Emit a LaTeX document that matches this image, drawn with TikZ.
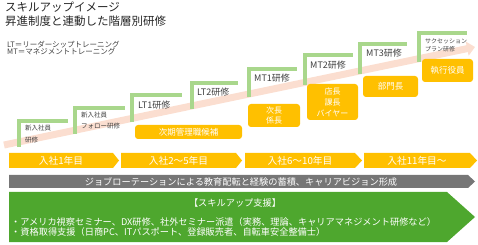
\documentclass[tikz,border=0pt]{standalone}
\usepackage{fontspec}
\setmainfont{Noto Sans CJK JP}
\usetikzlibrary{arrows.meta, positioning}
\definecolor{stepgreen}{RGB}{169,215,140}
\definecolor{bandpink}{RGB}{251,222,208}
\definecolor{boxorange}{RGB}{255,192,0}
\definecolor{rotgray}{RGB}{118,118,118}
\definecolor{supgreen}{RGB}{78,167,46}
\definecolor{txtgray}{RGB}{64,64,64}

\begin{document}
\begin{tikzpicture}[x=1pt, y=-1pt,
    stepline/.style={draw=stepgreen, line width=4pt},
    steplbl/.style={anchor=west, inner sep=0pt, text=txtgray, align=left},
    rolebox/.style={fill=boxorange, rounded corners=3pt, draw=none, text=white,
                    inner sep=0pt, align=center},
    whitetxt/.style={text=white, inner sep=0pt}]
    \useasboundingbox (0,0) rectangle (478,245);

    \node[anchor=west, inner sep=0pt, font=\fontsize{11.5}{13}\selectfont, text=black!85] (title1) at (5,7) {スキルアップイメージ};
    \node[anchor=west, inner sep=0pt, font=\fontsize{11.5}{13}\selectfont, text=black!85] (title2) at (5,21) {昇進制度と連動した階層別研修};
    \node[anchor=west, inner sep=0pt, font=\fontsize{7.5}{7}\selectfont, text=txtgray, align=left] (notes) at (7,48.5)
        {LT＝リーダーシップトレーニング\\MT＝マネジメントトレーニング};

    \coordinate (bandstart) at (4,145);
    \coordinate (bandend) at (475,47);
    \draw[bandpink, line width=7pt, -{Triangle[length=8pt,width=14pt]}] (bandstart) -- (bandend);

    \foreach \xl/\yt/\xr/\yb in {19/121/68/147, 75/108/125/134, 132/95/182/122,
                                 192/83/238/109, 249/69/297/97, 305/55/353/85,
                                 360/44/407/74, 419/33/467/62} {
        \draw[stepline] (\xl,\yb) |- (\xr,\yt);
    }

    \foreach \n/\x/\y/\fs/\lbl in {s1/25/134/6.5/{新入社員\\研修},
                                   s2/81/120.5/6.5/{新入社員\\フォロー研修},
                                   s3/138/105/9/{LT1研修},
                                   s4/197/92/9/{LT2研修},
                                   s5/254/78/9/{MT1研修},
                                   s6/310/65/9/{MT2研修},
                                   s7/366/53/9/{MT3研修}} {
        \node[steplbl, font=\fontsize{\fs}{11.5}\selectfont] (\n) at (\x,\y) {\lbl};
    }
    \node[steplbl, font=\fontsize{6}{8}\selectfont] (s8) at (425,45) {サクセッション\\プラン研修};

    \node[rolebox, minimum width=107, minimum height=14, font=\fontsize{8.5}{10}\selectfont] (cand) at (188.5,132) {次期管理職候補};
    \node[rolebox, minimum width=52, minimum height=23, font=\fontsize{8}{10.5}\selectfont] (deputy) at (274,115.5) {次長\\係長};
    \node[rolebox, minimum width=51, minimum height=36, font=\fontsize{8}{11}\selectfont] (store) at (332.5,102) {店長\\課長\\バイヤー};
    \node[rolebox, minimum width=55, minimum height=21, font=\fontsize{8.5}{10}\selectfont] (dept) at (390.5,86.5) {部門長};
    \node[rolebox, minimum width=51, minimum height=23, font=\fontsize{8.5}{10}\selectfont] (exec) at (447.5,70.5) {執行役員};

    \foreach \i/\xa/\xb/\xc/\lbl in {1/9/113/119/{入社1年目},
                                     2/121/236/242/{入社2～5年目},
                                     3/245/355/362/{入社6～10年目},
                                     4/364/470/477/{入社11年目～}} {
        \fill[boxorange] (\xa,153) -- (\xb,153) -- (\xc,160.5) -- (\xb,168) -- (\xa,168) -- cycle;
        \node[whitetxt, font=\fontsize{9.7}{11}\selectfont] (year\i) at ({(\xa+\xb)/2},160.5) {\lbl};
    }

    \fill[rotgray] (9,175) -- (468,175) -- (475,181.5) -- (468,188) -- (9,188) -- cycle;
    \node[whitetxt, font=\fontsize{9.2}{10}\selectfont] (rotation) at (241,181.5)
        {ジョブローテーションによる教育配転と経験の蓄積、キャリアビジョン形成};

    \fill[supgreen] (9,192) -- (447,192) -- (475,217) -- (447,242) -- (9,242) -- cycle;
    \node[whitetxt, font=\fontsize{9.2}{10}\selectfont] (suphead) at (235,203) {【スキルアップ支援】};
    \node[whitetxt, anchor=west, align=left, font=\fontsize{9.2}{10}\selectfont] (suplist) at (11,227)
        {・アメリカ視察セミナー、DX研修、社外セミナー派遣（実務、理論、キャリアマネジメント研修など）\\
         ・資格取得支援（日商PC、ITパスポート、登録販売者、自転車安全整備士）};
\end{tikzpicture}
\end{document}
